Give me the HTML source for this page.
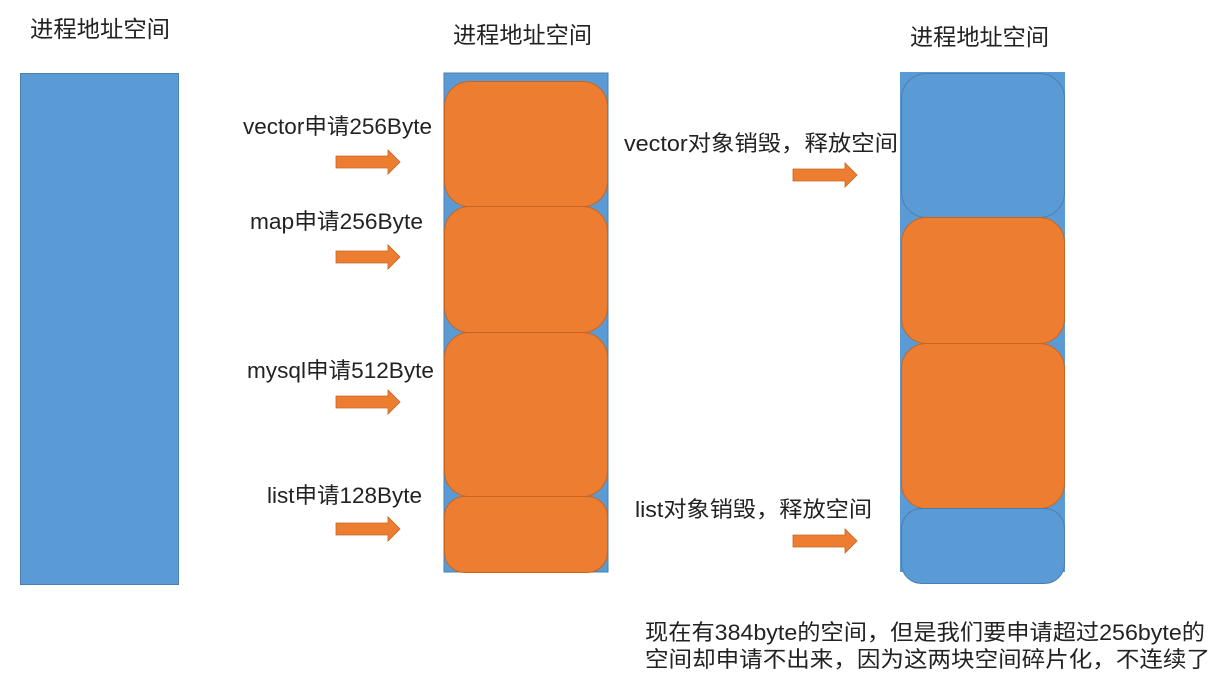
<!DOCTYPE html>
<html><head><meta charset="utf-8"><style>
html,body{margin:0;padding:0;background:#fff;}
svg text{font-family:"Liberation Sans","Noto Sans CJK SC",sans-serif;fill:#222;}
</style></head><body>
<svg width="1225" height="677" viewBox="0 0 1225 677" xmlns="http://www.w3.org/2000/svg">
<defs>
<g id="arr"><polygon points="0,-6 52,-6 52,-12 64,0 52,12 52,6 0,6" fill="#ed7d31" stroke="#c8651f" stroke-width="0.8"/></g>
</defs>
<text x="30" y="37" font-size="23" textLength="140" lengthAdjust="spacingAndGlyphs">进程地址空间</text>
<text x="453" y="43" font-size="23" textLength="139" lengthAdjust="spacingAndGlyphs">进程地址空间</text>
<text x="910" y="45" font-size="23" textLength="139" lengthAdjust="spacingAndGlyphs">进程地址空间</text>

<rect x="20.5" y="73.5" width="158" height="511" fill="#5b9bd5" stroke="#4a7fb0" stroke-width="1"/>

<rect x="444" y="73" width="164" height="499" fill="#5b9bd5" stroke="#4a7fb0" stroke-width="1"/>
<rect x="444.5" y="81.5" width="163" height="125" rx="25" fill="#ed7d31" stroke="#c8651f"/>
<rect x="444.5" y="206.5" width="163" height="126" rx="25" fill="#ed7d31" stroke="#c8651f"/>
<rect x="444.5" y="332.5" width="163" height="164" rx="25" fill="#ed7d31" stroke="#c8651f"/>
<rect x="444.5" y="496.5" width="163" height="76" rx="20" fill="#ed7d31" stroke="#c8651f"/>

<rect x="900" y="72" width="165" height="500" fill="#5b9bd5"/>
<rect x="901.5" y="73.5" width="163" height="144" rx="25" fill="#5b9bd5" stroke="#4a7fb0"/>
<rect x="901.5" y="217.5" width="163" height="126" rx="25" fill="#ed7d31" stroke="#c8651f"/>
<rect x="901.5" y="343.5" width="163" height="165" rx="25" fill="#ed7d31" stroke="#c8651f"/>
<rect x="901.5" y="508.5" width="163" height="75" rx="20" fill="#5b9bd5" stroke="#4a7fb0"/>

<text x="243" y="134" font-size="22" textLength="189" lengthAdjust="spacingAndGlyphs">vector申请256Byte</text>
<text x="250" y="229" font-size="22" textLength="173" lengthAdjust="spacingAndGlyphs">map申请256Byte</text>
<text x="247" y="378" font-size="22" textLength="187" lengthAdjust="spacingAndGlyphs">mysql申请512Byte</text>
<text x="267" y="503" font-size="22" textLength="155" lengthAdjust="spacingAndGlyphs">list申请128Byte</text>
<use href="#arr" x="336" y="162"/>
<use href="#arr" x="336" y="257"/>
<use href="#arr" x="336" y="402"/>
<use href="#arr" x="336" y="529"/>

<text x="624" y="151" font-size="22" textLength="274" lengthAdjust="spacingAndGlyphs">vector对象销毁，释放空间</text>
<text x="635" y="517" font-size="22" textLength="237" lengthAdjust="spacingAndGlyphs">list对象销毁，释放空间</text>
<use href="#arr" x="793" y="175"/>
<use href="#arr" x="793" y="541"/>

<text x="645" y="640" font-size="22" textLength="560" lengthAdjust="spacingAndGlyphs">现在有384byte的空间，但是我们要申请超过256byte的</text>
<text x="645" y="667" font-size="22" textLength="565" lengthAdjust="spacingAndGlyphs">空间却申请不出来，因为这两块空间碎片化，不连续了</text>
</svg>
</body></html>
